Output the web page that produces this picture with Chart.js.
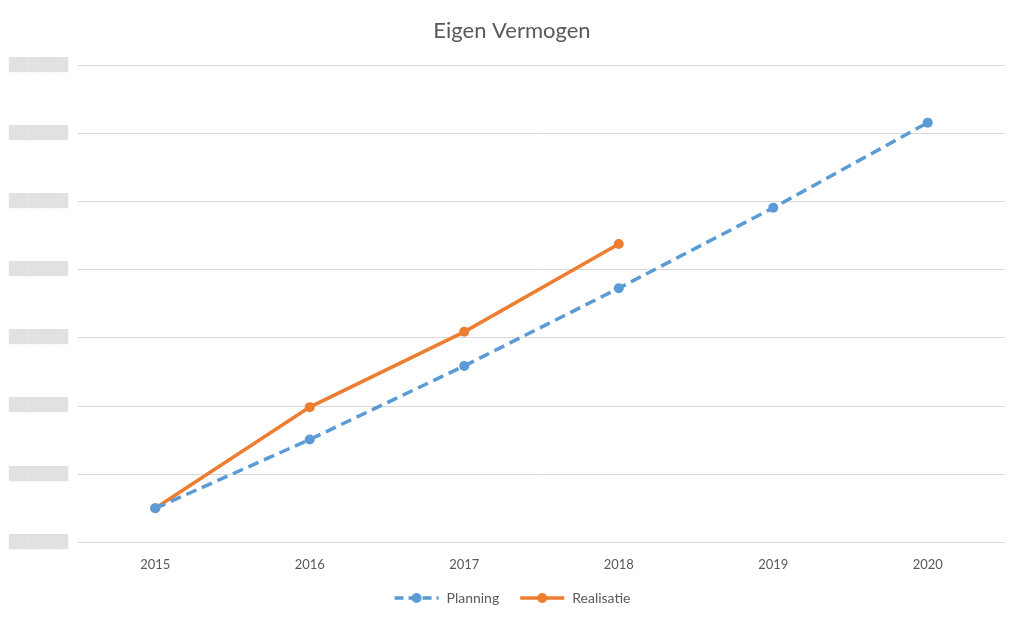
<!DOCTYPE html>
<html>
<head>
<meta charset="utf-8">
<script src="https://cdn.jsdelivr.net/npm/chart.js@4/dist/chart.umd.min.js"></script>
<style>
  html, body { margin: 0; padding: 0; background: #fff; }
  #wrap { width: 1024px; height: 623px; }
</style>
</head>
<body>
<div id="wrap"><canvas id="eigenChart"></canvas></div>
<script>
const years = ["2015", "2016", "2017", "2018", "2019", "2020"];
const planning = [0.5, 1.51, 2.59, 3.73, 4.91, 6.16];
const realisatie = [0.5, 1.985, 3.09, 4.38, null, null];
// y labels are blurred in the source, shown as grey blocks
const yTickLabels = ["██████", "██████", "██████", "██████", "██████", "██████", "██████", "██████"];

const blue = "#5B9BD5";
const orange = "#ED7D31";

function legendIcon(color, dashed) {
  const c = document.createElement("canvas");
  c.width = 46; c.height = 12;
  const g = c.getContext("2d");
  g.strokeStyle = color;
  g.lineWidth = 3.5;
  g.setLineDash(dashed ? [9, 5] : []);
  g.beginPath();
  g.moveTo(1, 6); g.lineTo(45, 6);
  g.stroke();
  g.fillStyle = color;
  g.beginPath();
  g.arc(23, 6, 5, 0, Math.PI * 2);
  g.fill();
  return c;
}
const icons = [legendIcon(blue, true), legendIcon(orange, false)];

const ctx = document.getElementById("eigenChart");
new Chart(ctx, {
  type: "line",
  data: {
    labels: years,
    datasets: [{
      label: "Planning",
      data: planning,
      borderColor: blue,
      backgroundColor: blue,
      borderWidth: 3.5,
      borderDash: [11, 6],
      pointRadius: 5,
      pointHoverRadius: 5,
      pointBorderWidth: 0,
      tension: 0
    }, {
      label: "Realisatie",
      data: realisatie,
      borderColor: orange,
      backgroundColor: orange,
      borderWidth: 3.5,
      pointRadius: 5,
      pointHoverRadius: 5,
      pointBorderWidth: 0,
      tension: 0
    }]
  },
  options: {
    responsive: true,
    maintainAspectRatio: false,
    animation: false,
    layout: { padding: { left: 0, right: 0, top: 18, bottom: 8 } },
    plugins: {
      title: {
        display: true,
        text: "Eigen Vermogen",
        color: "#595959",
        font: { family: "Lato", size: 22, weight: "normal" },
        padding: { top: 0, bottom: 21 }
      },
      legend: {
        position: "bottom",
        labels: {
          usePointStyle: true,
          pointStyleWidth: 46,
          color: "#595959",
          font: { family: "Lato", size: 14 },
          padding: 20,
          generateLabels: (chart) => {
            const items = Chart.defaults.plugins.legend.labels.generateLabels(chart);
            items.forEach((it, i) => { it.pointStyle = icons[i]; });
            return items;
          }
        }
      },
      tooltip: { enabled: false }
    },
    scales: {
      x: {
        offset: true,
        afterFit: (s) => { s.height -= 9; },
        grid: { display: false },
        border: { display: false },
        ticks: { color: "#595959", font: { family: "Lato", size: 13 }, padding: 7 }
      },
      y: {
        min: 0,
        max: 7,
        afterFit: (s) => { s.width = 78; },
        grid: { color: "#d9d9d9", lineWidth: 1, drawTicks: false },
        border: { display: false },
        ticks: {
          stepSize: 1,
          padding: 10,
          color: "rgba(222,222,222,0.9)",
          font: { family: "DejaVu Sans", size: 12.8 },
          callback: (v, i) => yTickLabels[i]
        }
      },
      yRight: {
        position: "right",
        afterFit: (s) => { s.width = 19; },
        grid: { display: false },
        border: { display: false },
        ticks: { display: false }
      }
    }
  }
});
</script>
</body>
</html>
